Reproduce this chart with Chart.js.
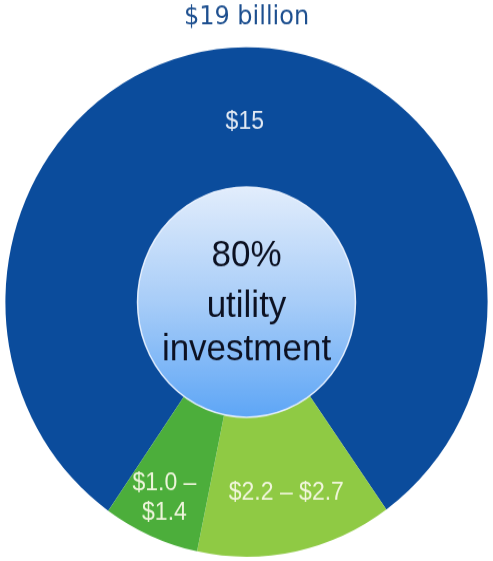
<!DOCTYPE html>
<html>
<head>
<meta charset="utf-8">
<script src="https://cdn.jsdelivr.net/npm/chart.js@4"></script>
<style>
  html, body { margin: 0; padding: 0; background: #fff; overflow: hidden; }
  #wrap { width: 493px; height: 561px; }
  /* the reference pie is a little taller than wide */
  #pie { transform: scaleY(1.0565); transform-origin: 0 0; display: block; }
</style>
</head>
<body>
<div id="wrap"><canvas id="pie" width="493" height="531"></canvas></div>
<script>
const categories = ['Utility investment', 'Segment B', 'Segment C'];
const values = [15, 2.45, 1.2];
const sliceLabels = [['$15'], ['$2.2 \u2013 $2.7'], ['$1.0 \u2013', '$1.4']];
const sliceColors = ['#0b4c9c', '#8fca44', '#4cae3b'];
const titleText = '$19 billion';
const centerLines = ['80%', 'utility', 'investment'];

const centerPlugin = {
    id: 'centerDisc',
    afterDatasetsDraw(chart, args, opts) {
        const ctx = chart.ctx;
        const arc = chart.getDatasetMeta(0).data[0];
        const cx = arc.x, cy = arc.y, r = arc.innerRadius;

        // gradient disc in the hole
        const g = ctx.createLinearGradient(0, cy - r, 0, cy + r);
        g.addColorStop(0, '#e2edfc');
        g.addColorStop(0.5, '#a8cdf8');
        g.addColorStop(1, '#5ea6f6');
        ctx.save();
        ctx.beginPath();
        ctx.arc(cx, cy, r, 0, Math.PI * 2);
        ctx.fillStyle = g;
        ctx.fill();
        ctx.lineWidth = 1.5;
        ctx.strokeStyle = 'rgba(235,243,255,0.9)';
        ctx.stroke();

        ctx.fillStyle = '#0c1122';
        ctx.font = '35px "Liberation Sans", Arial, sans-serif';
        ctx.textAlign = 'center';
        ctx.textBaseline = 'alphabetic';
        centerLines.forEach((line, i) => {
            ctx.fillText(line, cx, cy + opts.baselines[i]);
        });

        // slice labels
        const meta = chart.getDatasetMeta(0);
        ctx.font = '23px "Liberation Sans", Arial, sans-serif';
        ctx.textBaseline = 'middle';
        meta.data.forEach((el, i) => {
            const p = el.tooltipPosition();
            const off = opts.offsets[i];
            const lines = sliceLabels[i];
            ctx.fillStyle = opts.labelColors[i];
            lines.forEach((t, j) => {
                const y = p.y + off[1] + (j - (lines.length - 1) / 2) * 28.5;
                ctx.fillText(t, p.x + off[0], y);
            });
        });
        ctx.restore();
    }
};

new Chart(document.getElementById('pie'), {
    type: 'doughnut',
    data: {
        labels: categories,
        datasets: [{
            data: values,
            backgroundColor: sliceColors,
            borderWidth: 0
        }]
    },
    options: {
        responsive: false,
        animation: false,
        rotation: -145,
        cutout: '45.2%',
        layout: { padding: { bottom: 4 } },
        plugins: {
            legend: { display: false },
            tooltip: { enabled: false },
            title: {
                display: true,
                text: titleText,
                color: '#1d4f8f',
                font: { family: '"DejaVu Sans", sans-serif', size: 24, weight: 'normal' },
                padding: { top: 2, bottom: 14 }
            },
            centerDisc: {
                baselines: [-33.5, 14, 55],
                offsets: [[-1, 5], [4, 9], [-12.5, 25]],
                labelColors: ['#e3eaf4', '#f1f6dc', '#eef5dc']
            }
        }
    },
    plugins: [centerPlugin]
});
</script>
</body>
</html>
